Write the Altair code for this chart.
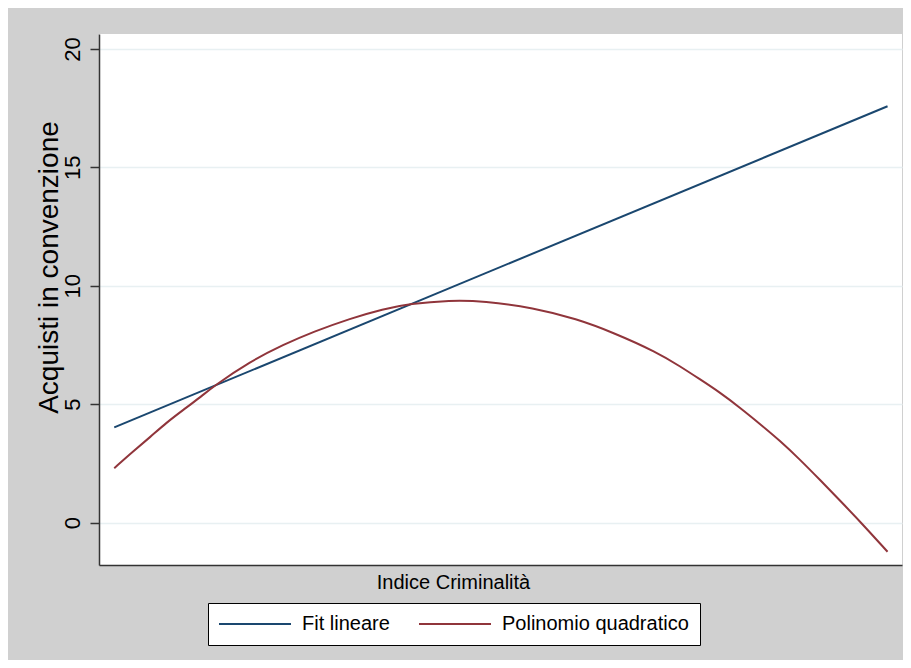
import altair as alt
import pandas as pd

# Crime index positions (0-100 scale) and fitted values
lin_x = [1.9, 98.2]
lin_y = [4.02, 17.58]

quad_x = [1.9, 4.3, 6.4, 8.4, 10.5, 12.6, 14.2, 18.8, 23.0, 26.7, 31.3, 35.4,
          38.7, 43.7, 47.9, 54.1, 59.5, 64.0, 69.5, 72.4, 74.8, 77.3, 79.8, 82.3,
          84.8, 87.3, 89.8, 92.3, 94.8, 98.2]
quad_y = [2.30, 3.02, 3.62, 4.22, 4.76, 5.29, 5.74, 6.80, 7.52, 8.06, 8.62, 9.02,
          9.24, 9.39, 9.36, 9.07, 8.60, 8.03, 7.19, 6.59, 6.06, 5.50, 4.86, 4.17,
          3.46, 2.66, 1.80, 0.92, 0.04, -1.23]

series = ["Fit lineare", "Polinomio quadratico"]
colors = ["#1a476f", "#90353b"]
y_ticks = [0, 5, 10, 15, 20]

df = pd.concat([
    pd.DataFrame({"x": lin_x, "y": lin_y, "serie": series[0], "ord": range(len(lin_x))}),
    pd.DataFrame({"x": quad_x, "y": quad_y, "serie": series[1], "ord": range(len(quad_x))}),
])

FONT = "Liberation Sans"

chart = alt.Chart(df).mark_line(strokeWidth=2, interpolate="basis").encode(
    x=alt.X("x:Q", scale=alt.Scale(domain=[0, 100], nice=False, zero=False),
            axis=alt.Axis(title="Indice Criminalità", ticks=False, labels=False, grid=False,
                          domainColor="#333333", domainWidth=1.5,
                          titleFont=FONT, titleFontSize=20, titleFontWeight="normal",
                          titleColor="black", titleX=354, titleY=23,
                          titleAlign="center", titleBaseline="alphabetic", titleAnchor="start")),
    y=alt.Y("y:Q", scale=alt.Scale(domain=[-1.79, 20.63], nice=False, zero=False),
            axis=alt.Axis(title="Acquisti in convenzione", values=y_ticks,
                          labelAngle=270, labelAlign="center", labelBaseline="bottom",
                          labelPadding=6, labelFont=FONT, labelFontSize=22, labelColor="black",
                          tickSize=9, tickColor="#333333", tickWidth=1.5,
                          domainColor="#333333", domainWidth=1.5,
                          grid=True, gridColor="#e8f0f2", gridWidth=1.5,
                          titleFont=FONT, titleFontSize=28, titleFontWeight="normal",
                          titleColor="black", titleAngle=270, titleX=-42, titleY=233,
                          titleAlign="center", titleBaseline="alphabetic", titleAnchor="start")),
    color=alt.Color("serie:N", scale=alt.Scale(domain=series, range=colors),
                    legend=alt.Legend(title=None, orient="none", legendX=109, legendY=569,
                                      direction="horizontal", symbolType="M-4,0H4",
                                      symbolSize=324, symbolStrokeWidth=2, symbolOffset=26,
                                      labelFont=FONT, labelFontSize=20, labelColor="black",
                                      labelLimit=400, labelOffset=37, columnPadding=25,
                                      padding=11, fillColor="white", strokeColor="black")),
    order="ord:Q",
).properties(
    width=803, height=531,
    autosize=alt.AutoSizeParams(type="none"),
    padding={"left": 91, "top": 26, "right": 1, "bottom": 95},
    background="#d0d0d0",
).configure_view(fill="white", stroke=None)

chart.save("out.html", embed_options={"renderer": "svg", "actions": False})
